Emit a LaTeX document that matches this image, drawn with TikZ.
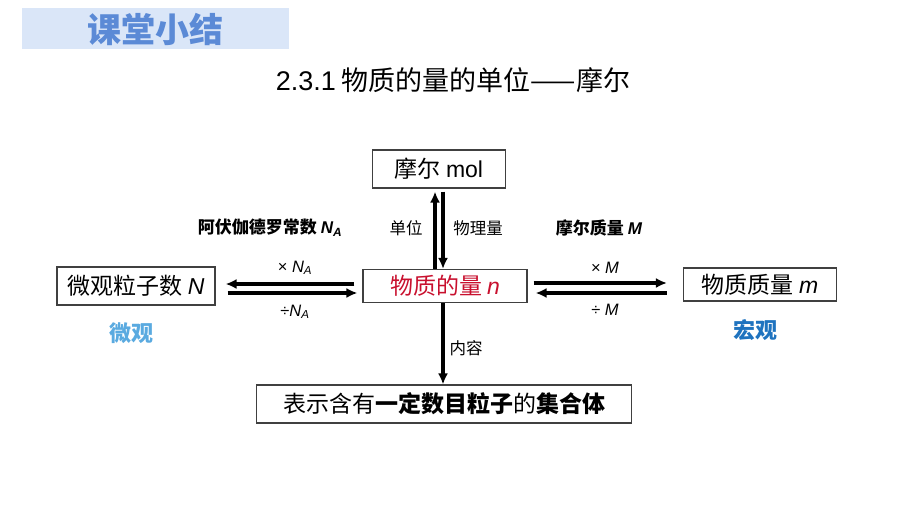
\documentclass[tikz,border=0pt]{standalone}
\usepackage{fontspec}
\setmainfont{Noto Sans CJK SC}
\newfontfamily\latin{Liberation Sans}
\usetikzlibrary{arrows.meta}
\definecolor{bannerblue}{HTML}{DAE6F8}
\definecolor{titleblue}{HTML}{5B8AD6}
\definecolor{microblue}{HTML}{5AAAE0}
\definecolor{macroblue}{HTML}{1F73BF}
\definecolor{amountred}{HTML}{C8102E}
\newcommand{\qty}[1]{{\latin\itshape #1}}
\begin{document}
\begin{tikzpicture}[x=1pt,y=-1pt,
    box/.style={draw=black!75, line width=1.1pt, font=\fontsize{23}{26}\selectfont, inner sep=0pt, minimum height=36pt},
    link/.style={line width=3.2pt, -{Latex[length=11pt,width=10pt]}},
    lbl/.style={font=\fontsize{16.5}{18}\selectfont},
    keylbl/.style={font=\bfseries\fontsize{17}{19}\selectfont}]
    \useasboundingbox (0,0) rectangle (900,506);

    % Title
    \fill[bannerblue] (22,8) rectangle (289,49);
    \node[font=\bfseries\fontsize{34}{36}\selectfont, text=titleblue] (title) at (155,29) {课堂小结};
    \node[font=\fontsize{27}{30}\selectfont] (subtitle) at (453,80) {{\latin 2.3.1} 物质的量的单位——摩尔};

    % Boxes
    \node[box, minimum width=133pt, minimum height=38pt] (mol) at (439,169) {摩尔 {\latin mol}};
    \node[box, minimum width=164pt, minimum height=33pt, text=amountred] (n) at (445,286) {物质的量 \qty{n}};
    \node[box, minimum width=158pt, minimum height=38pt] (N) at (136,286) {微观粒子数 \qty{N}};
    \node[box, minimum width=153pt, minimum height=33pt] (m) at (760,284.5) {物质质量 \qty{m}};
    \node[box, minimum width=375pt, minimum height=38pt] (set) at (444,404) {表示含有\textbf{一定数目粒子}的\textbf{集合体}};

    % mol <-> n
    \draw[link] ([xshift=-10pt]n.north) -- ([xshift=-4pt,yshift=-3pt]mol.south);
    \draw[link] ([xshift=4pt,yshift=-3pt]mol.south) -- ([xshift=-2pt]n.north);
    \node[lbl] (unit) at (406,228) {单位};
    \node[lbl] (phys) at (478,228) {物理量};

    % n <-> N
    \draw[link] ([xshift=-8pt,yshift=2pt]n.west) -- ([xshift=10pt,yshift=2pt]N.east);
    \draw[link] ([xshift=12pt,yshift=-7pt]N.east) -- ([xshift=-5pt,yshift=-7pt]n.west);
    \node[lbl] (times NA) at (295,268) {{\latin × }\qty{N}\textsubscript{\qty{A}}};
    \node[lbl] (div NA) at (295,312) {{\latin ÷}\qty{N}\textsubscript{\qty{A}}};
    \node[keylbl] (avogadro) at (270,228) {阿伏伽德罗常数 \qty{\bfseries N}\textsubscript{\qty{\bfseries A}}};

    % n <-> m
    \draw[link] ([xshift=6pt,yshift=3pt]n.east) -- ([xshift=-16pt,yshift=1.5pt]m.west);
    \draw[link] ([xshift=-16pt,yshift=-8.5pt]m.west) -- ([xshift=8pt,yshift=-7pt]n.east);
    \node[lbl] (times M) at (605,268) {{\latin × }\qty{M}};
    \node[lbl] (div M) at (605,310) {{\latin ÷ }\qty{M}};
    \node[keylbl] (molar) at (599,228) {摩尔质量 \qty{\bfseries M}};

    % scale labels
    \node[font=\bfseries\fontsize{22}{24}\selectfont, text=microblue] (micro) at (131,333) {微观};
    \node[font=\bfseries\fontsize{22}{24}\selectfont, text=macroblue] (macro) at (755,330) {宏观};

    % n -> content
    \draw[link] ([xshift=-2pt]n.south) -- ([xshift=-1pt]set.north);
    \node[lbl] (content) at (466,348) {内容};
\end{tikzpicture}
\end{document}
